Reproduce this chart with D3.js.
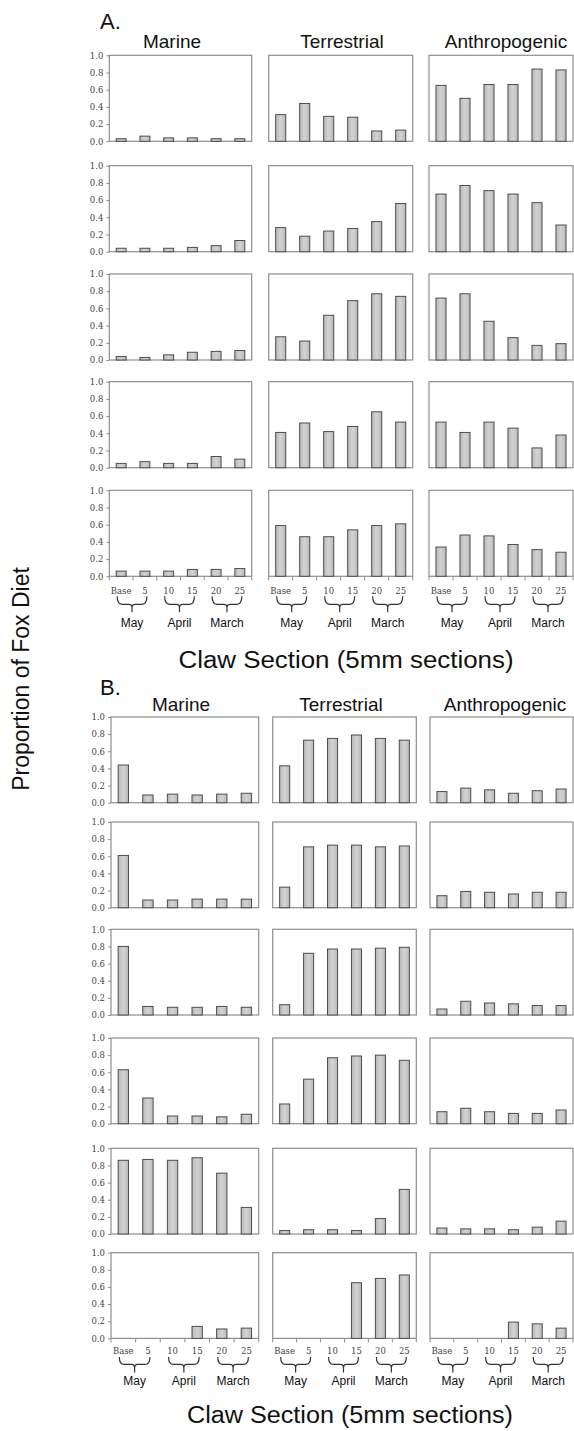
<!DOCTYPE html>
<html>
<head>
<meta charset="utf-8">
<script src="https://cdn.jsdelivr.net/npm/d3@7"></script>
<style>
  body { margin: 0; background: #fff; }
  svg { display: block; }
  .title { font-family: "Liberation Sans", Arial, sans-serif; fill: #111; }
  .tick text, .xlab { font-family: "DejaVu Serif", serif; font-size: 8.5px; fill: #444; }
  .month { font-family: "Liberation Sans", Arial, sans-serif; font-size: 12px; fill: #111; }
</style>
</head>
<body>
<div id="chart"></div>
<script>
// claw sections, grouped two by two into months
var categories = ["Base", "5", "10", "15", "20", "25"];
var months = ["May", "April", "March"];
var groups = ["Marine", "Terrestrial", "Anthropogenic"];
var yTicks = [0, 0.2, 0.4, 0.6, 0.8, 1.0];

// panel A, one row per fox
var aMarine = [
  [0.03, 0.06, 0.04, 0.04, 0.03, 0.03],
  [0.04, 0.04, 0.04, 0.05, 0.07, 0.13],
  [0.04, 0.03, 0.06, 0.09, 0.10, 0.11],
  [0.05, 0.07, 0.05, 0.05, 0.13, 0.10],
  [0.06, 0.06, 0.06, 0.08, 0.08, 0.09]
];
var aTerrestrial = [
  [0.31, 0.44, 0.29, 0.28, 0.12, 0.13],
  [0.28, 0.18, 0.24, 0.27, 0.35, 0.56],
  [0.27, 0.22, 0.52, 0.69, 0.77, 0.74],
  [0.41, 0.52, 0.42, 0.48, 0.65, 0.53],
  [0.59, 0.46, 0.46, 0.54, 0.59, 0.61]
];
var aAnthro = [
  [0.65, 0.50, 0.66, 0.66, 0.84, 0.83],
  [0.67, 0.77, 0.71, 0.67, 0.57, 0.31],
  [0.72, 0.77, 0.45, 0.26, 0.17, 0.19],
  [0.53, 0.41, 0.53, 0.46, 0.23, 0.38],
  [0.34, 0.48, 0.47, 0.37, 0.31, 0.28]
];

// panel B (null = no section)
var bMarine = [
  [0.44, 0.09, 0.10, 0.09, 0.10, 0.11],
  [0.61, 0.09, 0.09, 0.10, 0.10, 0.10],
  [0.80, 0.10, 0.09, 0.09, 0.10, 0.09],
  [0.63, 0.30, 0.09, 0.09, 0.08, 0.11],
  [0.86, 0.87, 0.86, 0.89, 0.71, 0.31],
  [null, null, null, 0.14, 0.11, 0.12]
];
var bTerrestrial = [
  [0.43, 0.73, 0.75, 0.79, 0.75, 0.73],
  [0.24, 0.71, 0.73, 0.73, 0.71, 0.72],
  [0.12, 0.72, 0.77, 0.77, 0.78, 0.79],
  [0.23, 0.52, 0.77, 0.79, 0.80, 0.74],
  [0.04, 0.05, 0.05, 0.04, 0.18, 0.52],
  [null, null, null, 0.65, 0.70, 0.74]
];
var bAnthro = [
  [0.13, 0.17, 0.15, 0.11, 0.14, 0.16],
  [0.14, 0.19, 0.18, 0.16, 0.18, 0.18],
  [0.07, 0.16, 0.14, 0.13, 0.11, 0.11],
  [0.14, 0.18, 0.14, 0.12, 0.12, 0.16],
  [0.07, 0.06, 0.06, 0.05, 0.08, 0.15],
  [null, null, null, 0.19, 0.17, 0.12]
];

var W = 574, H = 1431;

var svg = d3.select("#chart").append("svg")
  .attr("width", W)
  .attr("height", H);

var defs = svg.append("defs");
var grad = defs.append("linearGradient").attr("id", "barFill")
  .attr("x1", "0%").attr("x2", "100%").attr("y1", "0%").attr("y2", "0%");
grad.append("stop").attr("offset", "0%").attr("stop-color", "#b9b9b9");
grad.append("stop").attr("offset", "50%").attr("stop-color", "#d3d3d3");
grad.append("stop").attr("offset", "100%").attr("stop-color", "#b9b9b9");

var panelA = {
  letter: "A.", letterY: 29, titleY: 48,
  titleX: [172, 342, 506],
  cols: [[109.3, 251.7], [268.7, 412.7], [429, 573]],
  tops: [55.3, 165.7, 274, 381.7, 490.3], h: 86,
  labDy: 15, braceTop: 20, braceMid: 28, braceBot: 36, monthDy: 51,
  clawY: 668, clawX: 346, clawLen: 335
};
var panelB = {
  letter: "B.", letterY: 695, titleY: 711,
  titleX: [181, 341, 505],
  cols: [[111, 258.7], [272.7, 416.3], [430, 573]],
  tops: [717, 822, 929.3, 1038, 1148.3, 1252.7], h: 85.7,
  labDy: 13, braceTop: 18.5, braceMid: 26, braceBot: 34, monthDy: 47,
  clawY: 1423, clawX: 350, clawLen: 326
};

function brace(x1, x2, y0, ym, yb) {
  var xm = (x1 + x2) / 2;
  return "M" + x1 + "," + y0 + " Q" + x1 + "," + ym + " " + (x1 + 5) + "," + ym +
    " L" + (xm - 3) + "," + ym + " Q" + xm + "," + ym + " " + xm + "," + (ym + 3) +
    " L" + xm + "," + yb +
    " M" + x2 + "," + y0 + " Q" + x2 + "," + ym + " " + (x2 - 5) + "," + ym +
    " L" + (xm + 3) + "," + ym + " Q" + xm + "," + ym + " " + xm + "," + (ym + 3);
}

function drawPanel(cfg, series) {
  svg.append("text")
    .attr("class", "title")
    .attr("x", 100).attr("y", cfg.letterY)
    .style("font-size", "22px")
    .text(cfg.letter);

  groups.forEach(function(name, c) {
    svg.append("text")
      .attr("class", "title")
      .attr("x", cfg.titleX[c]).attr("y", cfg.titleY)
      .attr("text-anchor", "middle")
      .style("font-size", "19px")
      .text(name);
  });

  var nRows = cfg.tops.length;
  series.forEach(function(rows, c) {
    var l = cfg.cols[c][0], r = cfg.cols[c][1];
    var x = d3.scaleBand()
      .domain(categories)
      .range([l, r])
      .paddingInner(0.58)
      .paddingOuter(0.29);

    rows.forEach(function(vals, ri) {
      var top = cfg.tops[ri];
      var y = d3.scaleLinear().domain([0, 1]).range([top + cfg.h, top]);
      var g = svg.append("g");

      g.append("rect")
        .attr("x", l).attr("y", top)
        .attr("width", r - l).attr("height", cfg.h)
        .attr("fill", "none")
        .attr("stroke", "#8e8e8e")
        .attr("stroke-width", 1.2);

      var pts = categories.map(function(k, i) { return {cat: k, v: vals[i]}; })
        .filter(function(d) { return d.v != null; });

      g.selectAll(".bar")
        .data(pts)
        .enter()
        .append("rect")
        .attr("class", "bar")
        .attr("x", function(d) { return x(d.cat); })
        .attr("y", function(d) { return y(d.v); })
        .attr("width", x.bandwidth())
        .attr("height", function(d) { return y(0) - y(d.v); })
        .attr("fill", "url(#barFill)")
        .attr("stroke", "#4d4d4d")
        .attr("stroke-width", 1);

      if (c === 0) {
        var ax = g.append("g")
          .attr("transform", "translate(" + l + ",0)")
          .call(d3.axisLeft(y).tickValues(yTicks).tickSize(3).tickPadding(3)
            .tickFormat(d3.format(".1f")));
        ax.select(".domain").remove();
        ax.selectAll(".tick line").attr("stroke", "#8e8e8e");
      }

      if (ri === nRows - 1) {
        var base = top + cfg.h;
        var step = x.step();
        var edges = d3.range(categories.length + 1).map(function(i) { return l + i * step; });
        g.selectAll(".xt")
          .data(edges)
          .enter()
          .append("line")
          .attr("x1", function(d) { return d; })
          .attr("x2", function(d) { return d; })
          .attr("y1", base).attr("y2", base + 4)
          .attr("stroke", "#8e8e8e");

        g.selectAll(".xlab")
          .data(categories)
          .enter()
          .append("text")
          .attr("class", "xlab")
          .attr("x", function(d) { return x(d) + x.bandwidth() / 2; })
          .attr("y", base + cfg.labDy)
          .attr("dy", "0.35em")
          .attr("text-anchor", "middle")
          .text(function(d) { return d; });

        months.forEach(function(m, mi) {
          var c1 = x(categories[mi * 2]) + x.bandwidth() / 2 - 4;
          var c2 = x(categories[mi * 2 + 1]) + x.bandwidth() / 2 + 2;
          g.append("path")
            .attr("d", brace(c1, c2, base + cfg.braceTop, base + cfg.braceMid, base + cfg.braceBot))
            .attr("fill", "none")
            .attr("stroke", "#333")
            .attr("stroke-width", 1.2);
          g.append("text")
            .attr("class", "month")
            .attr("x", (c1 + c2) / 2)
            .attr("y", base + cfg.monthDy)
            .attr("text-anchor", "middle")
            .text(m);
        });
      }
    });
  });

  svg.append("text")
    .attr("class", "title")
    .attr("x", cfg.clawX).attr("y", cfg.clawY)
    .attr("text-anchor", "middle")
    .attr("textLength", cfg.clawLen)
    .attr("lengthAdjust", "spacingAndGlyphs")
    .style("font-size", "23px")
    .text("Claw Section (5mm sections)");
}

drawPanel(panelA, [aMarine, aTerrestrial, aAnthro]);
drawPanel(panelB, [bMarine, bTerrestrial, bAnthro]);

svg.append("text")
  .attr("class", "title")
  .attr("transform", "translate(29,679) rotate(-90)")
  .attr("text-anchor", "middle")
  .style("font-size", "23px")
  .text("Proportion of Fox Diet");
</script>
</body>
</html>
